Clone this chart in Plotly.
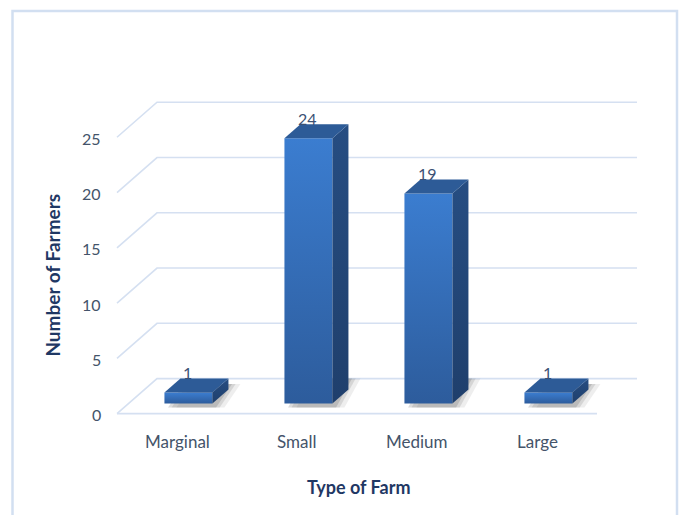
import plotly.graph_objects as go

# Farm size distribution
categories = ["Marginal", "Small", "Medium", "Large"]
farmers = [1, 24, 19, 1]
y_ticks = [0, 5, 10, 15, 20, 25]

# Oblique projection of the 3-D box: one unit of depth moves DX along x and DY along y
DX = 40 / 120
DY = 35 / 11.053
BAR_W = 0.4          # bar width, in category units
Z0, Z1 = 0.286, 0.686  # front and back depth of every bar (fraction of full depth)
X_LO, X_HI = -0.5, 3.5  # floor extent in category units

GRID = "#d5e0f1"
TEXT = "#44546a"
TITLE = "#1f3864"
FONT = "Lato"

fig = go.Figure()

# Gridlines: a diagonal on the side wall and a horizontal line on the back wall per tick
gx, gy = [], []
for t in y_ticks:
    gx += [X_LO, X_LO + DX, X_HI + DX, None]
    gy += [t, t + DY, t + DY, None]
# front edge of the floor
gx += [X_LO, X_HI, None]
gy += [0, 0, None]
fig.add_trace(go.Scatter(x=gx, y=gy, mode="lines", line=dict(color=GRID, width=1.6),
                         hoverinfo="skip", showlegend=False))


def poly(xs, ys, **kw):
    fig.add_trace(go.Scatter(x=xs + [xs[0]], y=ys + [ys[0]], mode="lines", fill="toself",
                             line=dict(width=0), hoverinfo="skip", showlegend=False, **kw))


for i, v in enumerate(farmers):
    xl = i - BAR_W / 2 + Z0 * DX
    xr = i + BAR_W / 2 + Z0 * DX
    yb = Z0 * DY
    yt = v + Z0 * DY
    ddx = (Z1 - Z0) * DX
    ddy = (Z1 - Z0) * DY

    # soft shadow cast toward the lower right
    for k, a in [(0.10, 0.10), (0.06, 0.16), (0.03, 0.22)]:
        poly([xl + k, xr + k, xr + ddx + k, xl + ddx + k],
             [yb - 0.35, yb - 0.35, yb + ddy + min(v, 2.0) * 0.5, yb + ddy + min(v, 2.0) * 0.5],
             fillcolor=f"rgba(90,90,90,{a})")

    # front face
    poly([xl, xr, xr, xl], [yb, yb, yt, yt],
         fillgradient=dict(type="vertical",
                           colorscale=[[0, "#2d5c9c"], [1, "#3b7dd0"]]))
    # right side face
    poly([xr, xr + ddx, xr + ddx, xr], [yb, yb + ddy, yt + ddy, yt],
         fillgradient=dict(type="vertical",
                           colorscale=[[0, "#1f3f6c"], [1, "#264d82"]]))
    # top face
    poly([xl, xr, xr + ddx, xl + ddx], [yt, yt, yt + ddy, yt + ddy],
         fillcolor="#2d5b97")

annotations = []
# value labels above each bar
for i, v in enumerate(farmers):
    annotations.append(dict(x=i + Z0 * DX - 0.01, y=v + Z1 * DY, text=str(v), showarrow=False,
                            xanchor="center", yanchor="middle", yshift=6,
                            font=dict(family=FONT, size=16, color="#3b5174")))
# value axis labels
for t in y_ticks:
    annotations.append(dict(x=X_LO, y=t, text=str(t), showarrow=False, xanchor="right",
                            yanchor="middle", xshift=-14, yshift=-1,
                            font=dict(family=FONT, size=16, color=TEXT)))
# category labels
for i, c in enumerate(categories):
    annotations.append(dict(x=i, y=-2.5, text=c, showarrow=False, xanchor="center",
                            yanchor="middle", font=dict(family=FONT, size=17, color=TEXT)))
# axis titles
annotations.append(dict(x=1.515, y=-6.65, text="<b>Type of Farm</b>", showarrow=False,
                        xanchor="center", yanchor="middle",
                        font=dict(family=FONT, size=18, color=TITLE)))
annotations.append(dict(x=-1.04, y=12.5, text="<b>Number of Farmers</b>", showarrow=False,
                        textangle=-90, xanchor="center", yanchor="middle",
                        font=dict(family=FONT, size=19, color=TITLE)))

fig.update_layout(
    width=680, height=515,
    margin=dict(l=33, r=11, t=82, b=13, autoexpand=False),
    paper_bgcolor="white", plot_bgcolor="white",
    xaxis=dict(range=[-1.2, 4.1], visible=False, fixedrange=True),
    yaxis=dict(range=[-8, 30], visible=False, fixedrange=True),
    annotations=annotations,
    shapes=[dict(type="rect", xref="paper", yref="paper",
                 x0=(12.5 - 33) / 636, x1=(677 - 33) / 636,
                 y0=(502 - 530) / 420, y1=(502 - 11) / 420,
                 line=dict(color="#d2dff1", width=2.5), fillcolor="rgba(0,0,0,0)",
                 layer="below")],
    showlegend=False,
)

fig.write_html("out.html")
